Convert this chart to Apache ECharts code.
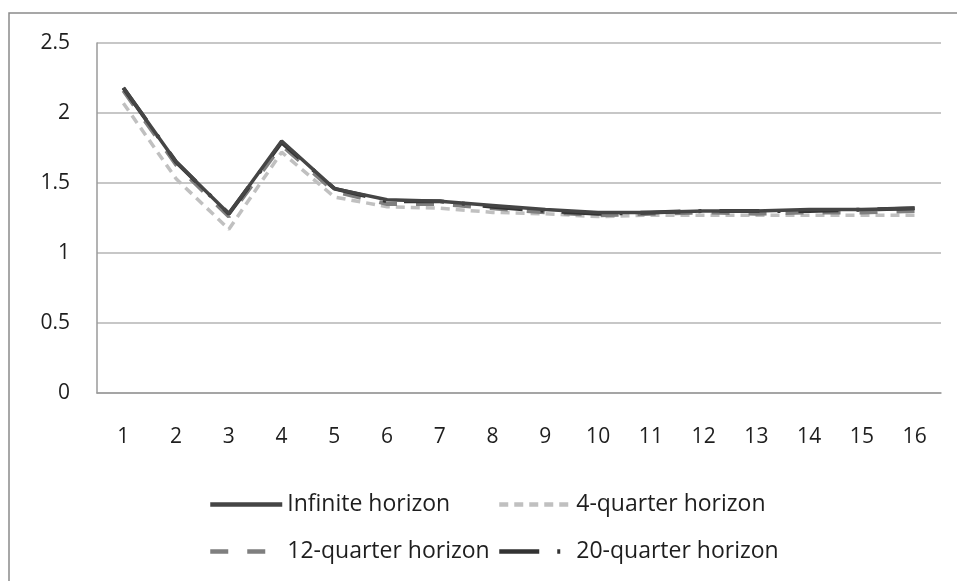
<!DOCTYPE html>
<html>
<head>
<meta charset="utf-8">
<script src="https://cdn.jsdelivr.net/npm/echarts@6/dist/echarts.min.js"></script>
<style>
  html, body { margin: 0; padding: 0; background: #fff; }
  #chart { width: 957px; height: 581px; }
</style>
</head>
<body>
<div id="chart"></div>
<script>
// quarters on the x axis
const quarters = ['1', '2', '3', '4', '5', '6', '7', '8', '9', '10', '11', '12', '13', '14', '15', '16'];

// series values
const infiniteHorizon = [2.18, 1.65, 1.28, 1.80, 1.46, 1.38, 1.37, 1.34, 1.31, 1.29, 1.29, 1.30, 1.30, 1.31, 1.31, 1.32];
const quarter4 = [2.07, 1.53, 1.17, 1.72, 1.40, 1.33, 1.32, 1.29, 1.28, 1.26, 1.27, 1.27, 1.27, 1.27, 1.27, 1.27];
const quarter12 = [2.16, 1.63, 1.26, 1.77, 1.44, 1.35, 1.35, 1.32, 1.29, 1.27, 1.28, 1.29, 1.28, 1.29, 1.29, 1.30];
const quarter20 = [2.18, 1.65, 1.28, 1.79, 1.46, 1.37, 1.37, 1.33, 1.30, 1.28, 1.29, 1.30, 1.30, 1.30, 1.31, 1.32];

const font = 'Open Sans';

const chart = echarts.init(document.getElementById('chart'));

// one legend block per entry so the 2x2 layout lines up like the original
const legendBlock = (name, left, top) => ({
  data: [name],
  left: left,
  top: top,
  padding: 0,
  itemWidth: 72,
  itemHeight: 12,
  itemGap: 0,
  itemStyle: { opacity: 0 },
  lineStyle: { width: 4.5 },
  textStyle: { fontFamily: font, fontSize: 23, color: '#1e1e1e' },
  selectedMode: false
});

chart.setOption({
  animation: false,
  graphic: [{
    type: 'rect',
    shape: { x: 9, y: 13, width: 1000, height: 700 },
    style: { fill: 'none', stroke: '#8a8a8a', lineWidth: 1.5 },
    silent: true
  }],
  grid: { left: 97, right: 16, top: 43, bottom: 188 },
  legend: [
    legendBlock('Infinite horizon', 208, 493),
    legendBlock('4-quarter horizon', 497, 493),
    legendBlock('12-quarter horizon', 208, 540),
    legendBlock('20-quarter horizon', 497, 540)
  ],
  xAxis: {
    type: 'category',
    data: quarters,
    boundaryGap: true,
    axisLine: { lineStyle: { color: '#9a9a9a', width: 1.5 } },
    axisTick: { show: false },
    axisLabel: { fontFamily: font, fontSize: 21, color: '#1e1e1e', margin: 34 }
  },
  yAxis: {
    type: 'value',
    min: 0,
    max: 2.5,
    interval: 0.5,
    axisLine: { show: true, lineStyle: { color: '#9a9a9a', width: 1.5 } },
    axisTick: { show: false },
    axisLabel: { fontFamily: font, fontSize: 21, color: '#1e1e1e', margin: 27 },
    splitLine: { lineStyle: { color: '#b5b5b5', width: 1.5 } }
  },
  series: [
    {
      name: 'Infinite horizon',
      type: 'line',
      symbol: 'none',
      data: infiniteHorizon,
      lineStyle: { color: '#454545', width: 3.5 },
      itemStyle: { color: '#454545' },
      z: 5
    },
    {
      name: '4-quarter horizon',
      type: 'line',
      symbol: 'none',
      data: quarter4,
      lineStyle: { color: '#c0c0c0', width: 3.5, type: [9, 6] },
      itemStyle: { color: '#c0c0c0' },
      z: 2
    },
    {
      name: '12-quarter horizon',
      type: 'line',
      symbol: 'none',
      data: quarter12,
      lineStyle: { color: '#7f7f7f', width: 4, type: [18, 19] },
      itemStyle: { color: '#7f7f7f' },
      z: 3
    },
    {
      name: '20-quarter horizon',
      type: 'line',
      symbol: 'none',
      data: quarter20,
      lineStyle: { color: '#333333', width: 4, type: [40, 18, 3, 18] },
      itemStyle: { color: '#333333' },
      z: 4
    }
  ]
});
</script>
</body>
</html>
